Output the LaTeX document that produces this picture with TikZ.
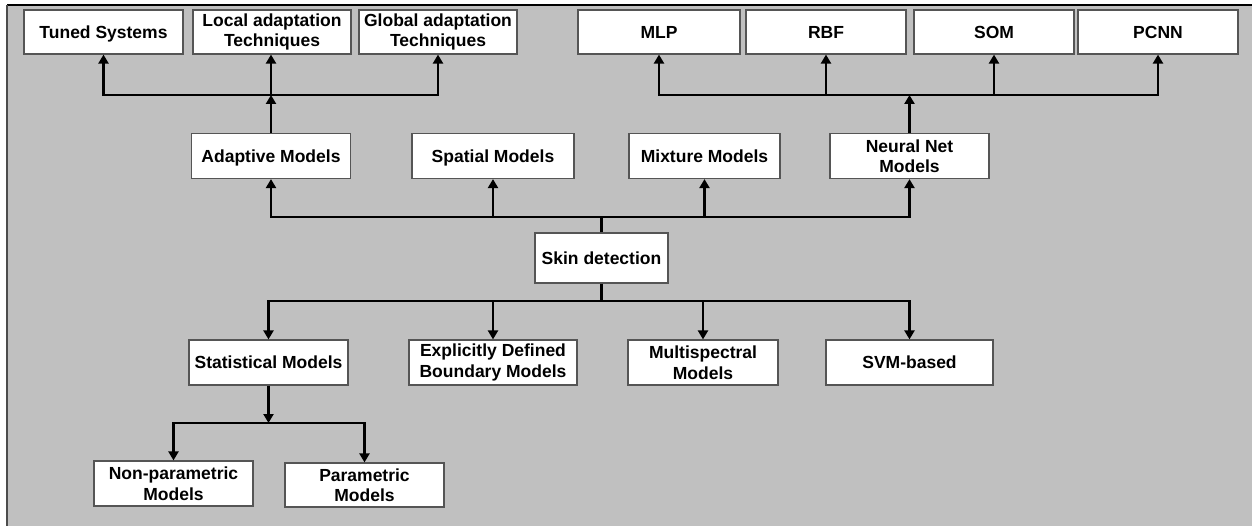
\documentclass[tikz,border=0pt]{standalone}
\usepackage{fontspec}
\setmainfont{Liberation Sans}
\usetikzlibrary{arrows.meta}
\definecolor{bggray}{HTML}{C0C0C0}
\definecolor{boxline}{HTML}{555555}
\tikzset{
  box/.style={draw=boxline, fill=white, line width=1.2pt, align=center, inner sep=0pt,
    font=\fontsize{17.5}{20.5}\selectfont\bfseries},
  oneline/.style={text height=12.5pt, text depth=0pt},
  conn/.style={line width=2.9pt, line join=miter},
  arr/.style={conn, -{Triangle[length=9pt,width=10pt]}}
}
\begin{document}
\begin{tikzpicture}[x=1pt,y=-1pt]
\useasboundingbox (0,0) rectangle (1252,526);
\fill[white] (0,0) rectangle (1252,526);
\fill[bggray] (7,5) rectangle (1252,526);
\draw[line width=1.5pt, black] (7,5) -- (1252,5);
\draw[line width=1.5pt, black!70] (7,5) -- (7,526);

% top row
\node[box, oneline, minimum width=159, minimum height=44] (tuned) at (103.5,32) {Tuned Systems};
\node[box, minimum width=158, minimum height=44] (local) at (272,32) {Local adaptation\\Techniques};
\node[box, minimum width=158, minimum height=44] (global) at (438,32) {Global adaptation\\Techniques};
\node[box, oneline, minimum width=162, minimum height=44] (mlp) at (659,32) {MLP};
\node[box, oneline, minimum width=160, minimum height=44] (rbf) at (826,32) {RBF};
\node[box, oneline, minimum width=160, minimum height=44] (som) at (994,32) {SOM};
\node[box, oneline, minimum width=160, minimum height=44] (pcnn) at (1158,32) {PCNN};

% middle row
\node[box, oneline, minimum width=159, minimum height=45] (adaptive) at (271,156) {Adaptive Models};
\node[box, oneline, minimum width=162, minimum height=45] (spatial) at (493,156) {Spatial Models};
\node[box, oneline, minimum width=151, minimum height=45] (mixture) at (704.5,156) {Mixture Models};
\node[box, minimum width=159, minimum height=45] (neural) at (909.5,156) {Neural Net\\Models};

% centre
\node[box, oneline, minimum width=133, minimum height=50] (skin) at (601.5,258) {Skin detection};

% lower row
\node[box, oneline, minimum width=159, minimum height=45] (stat) at (268.5,362.5) {Statistical Models};
\node[box, minimum width=168, minimum height=45] (explicit) at (493,362.5) {Explicitly Defined\\Boundary Models};
\node[box, minimum width=150, minimum height=45] (multi) at (703,362.5) {Multispectral\\Models};
\node[box, oneline, minimum width=167, minimum height=45] (svm) at (909.5,362.5) {SVM-based};

% bottom row
\node[box, minimum width=159, minimum height=45] (nonpar) at (173.5,483.5) {Non-parametric\\Models};
\node[box, minimum width=159, minimum height=44] (par) at (364.5,485) {Parametric\\Models};

% junction points
\coordinate (jA) at (adaptive.north |- 0,95);
\coordinate (jN) at (neural.north |- 0,95);
\coordinate (sU) at (skin.north |- 0,217);
\coordinate (sD) at (skin.south |- 0,301);
\coordinate (jS) at (stat.south |- 0,423);

% adaptive branch
\draw[arr] (adaptive.north) -- (jA);
\draw[arr] (jA) -| (tuned.south);
\draw[arr] (jA) -- (jA |- local.south);
\draw[arr] (jA) -| (global.south);

% neural branch
\draw[arr] (neural.north) -- (jN);
\draw[arr] (jN) -| (mlp.south);
\draw[arr] (jN) -| (rbf.south);
\draw[arr] (jN) -| (som.south);
\draw[arr] (jN) -| (pcnn.south);

% skin upward
\draw[conn] (skin.north) -- (sU);
\draw[arr] (sU) -| (adaptive.south);
\draw[arr] (sU) -| (spatial.south);
\draw[arr] (sU) -| (mixture.south);
\draw[arr] (sU) -| (neural.south);

% skin downward
\draw[conn] (skin.south) -- (sD);
\draw[arr] (sD) -| (stat.north);
\draw[arr] (sD) -| (explicit.north);
\draw[arr] (sD) -| (multi.north);
\draw[arr] (sD) -| (svm.north);

% statistical branch
\draw[arr] (stat.south) -- (jS);
\draw[arr] (jS) -| (nonpar.north);
\draw[arr] (jS) -| (par.north);
\end{tikzpicture}
\end{document}
